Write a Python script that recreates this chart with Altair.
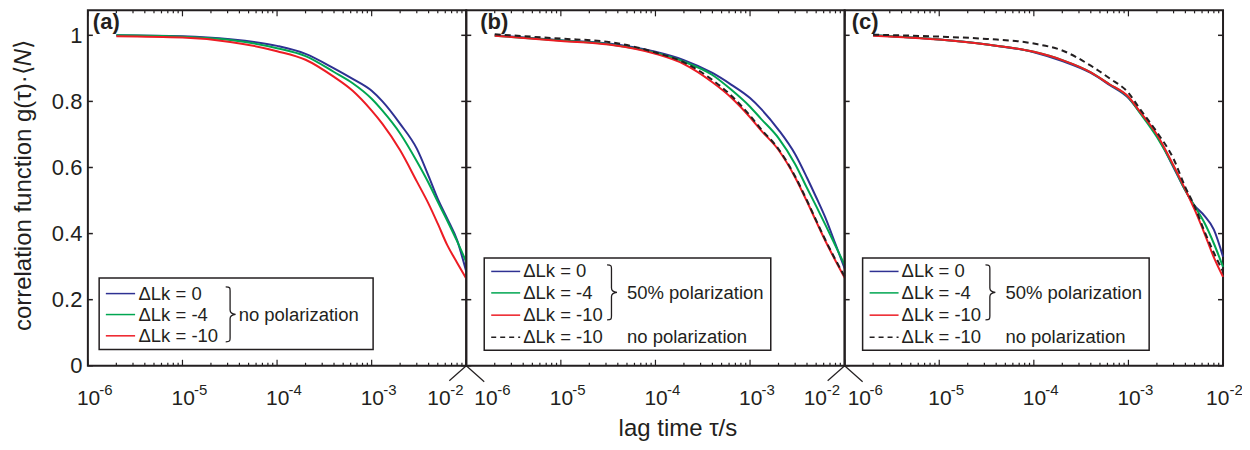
import altair as alt
import pandas as pd

# ---------------- data ----------------
tau = [2e-6, 1e-5, 3.2e-5, 1e-4, 2e-4, 4e-4, 6.3e-4, 1e-3, 1.3e-3, 2e-3,
       3e-3, 4e-3, 5e-3, 6.3e-3, 8e-3, 1e-2]

# panel (a): no polarization
a_lk0 = [1.000, 0.997, 0.988, 0.968, 0.944, 0.900, 0.868, 0.832, 0.800, 0.732,
         0.657, 0.574, 0.505, 0.445, 0.380, 0.285]
a_lk4 = [1.000, 0.996, 0.986, 0.961, 0.937, 0.889, 0.855, 0.808, 0.772, 0.703,
         0.619, 0.553, 0.496, 0.439, 0.377, 0.314]
a_lk10 = [0.997, 0.993, 0.980, 0.952, 0.926, 0.874, 0.832, 0.772, 0.732, 0.652,
          0.558, 0.490, 0.430, 0.365, 0.312, 0.264]

# panel (b): 50% polarization + reference
b_lk0 = [1.000, 0.985, 0.975, 0.950, 0.925, 0.886, 0.851, 0.810, 0.778, 0.714,
         0.640, 0.569, 0.510, 0.446, 0.368, 0.295]
b_lk4 = [0.999, 0.984, 0.973, 0.947, 0.920, 0.880, 0.836, 0.784, 0.748, 0.689,
         0.610, 0.538, 0.483, 0.425, 0.363, 0.305]
b_lk10 = [0.999, 0.983, 0.972, 0.944, 0.913, 0.858, 0.812, 0.752, 0.713, 0.653,
          0.570, 0.497, 0.437, 0.376, 0.318, 0.266]
b_ref = [1.003, 0.990, 0.980, 0.948, 0.918, 0.865, 0.818, 0.757, 0.717, 0.656,
         0.573, 0.500, 0.440, 0.379, 0.321, 0.270]

# panel (c): 50% polarization + reference
c_lk0 = [1.000, 0.987, 0.972, 0.949, 0.922, 0.886, 0.850, 0.810, 0.770, 0.697,
         0.600, 0.530, 0.485, 0.455, 0.412, 0.330]
c_lk4 = [1.000, 0.987, 0.972, 0.950, 0.925, 0.888, 0.852, 0.812, 0.768, 0.692,
         0.603, 0.530, 0.483, 0.435, 0.370, 0.299]
c_lk10 = [0.999, 0.987, 0.972, 0.950, 0.925, 0.888, 0.852, 0.814, 0.772, 0.700,
          0.606, 0.533, 0.473, 0.404, 0.328, 0.269]
c_ref = [1.002, 0.996, 0.989, 0.975, 0.954, 0.908, 0.870, 0.826, 0.780, 0.707,
         0.626, 0.540, 0.483, 0.410, 0.342, 0.285]

series_names = ["ΔLk = 0", "ΔLk = -4", "ΔLk = -10"]
ref_name = "ΔLk = -10"
group_no = "no polarization"
group_50 = "50% polarization"
panel_names = ["(a)", "(b)", "(c)"]
y_ticks = [0, 0.2, 0.4, 0.6, 0.8, 1.0]
x_major = [1e-6, 1e-5, 1e-4, 1e-3, 1e-2]
x_exp = ["-6", "-5", "-4", "-3", "-2"]
x_minor = [m * d for d in [1e-6, 1e-5, 1e-4, 1e-3] for m in range(2, 10)]
y_title_main = "correlation function g(τ)·⟨"
y_title_n = "N"
y_title_end = "⟩"
x_title = "lag time τ/s"

# ---------------- style ----------------
FONT = "Liberation Sans"
INK = "#231f20"
COLORS = ["#2e3192", "#00a651", "#ed1c24"]
W, H = 379, 356
TOP = H / 331.0
xs = alt.Scale(type="log", domain=[1e-6, 1e-2], nice=False)
ys = alt.Scale(domain=[0, TOP], nice=False, zero=False)
one = pd.DataFrame({"k": [0]})
BRACE = ("M -0.18 -1 C -0.02 -1 -0.02 -0.96 -0.02 -0.86 L -0.02 -0.16 "
         "C -0.02 -0.06 0.06 -0.01 0.18 0 C 0.06 0.01 -0.02 0.06 -0.02 0.16 "
         "L -0.02 0.86 C -0.02 0.96 -0.02 1 -0.18 1")
LEG = 18.5


def line_layer(vals, color, y_axis, dash=None):
    df = pd.DataFrame({"tau": tau, "g": vals})
    kw = dict(color=color, strokeWidth=2, interpolate="monotone")
    if dash:
        kw["strokeDash"] = dash
    return alt.Chart(df).mark_line(**kw).encode(
        x=alt.X("tau:Q", scale=xs, axis=None),
        y=alt.Y("g:Q", scale=ys, axis=y_axis))


def ytick_layer(x0, x1, y_axis):
    return alt.Chart(pd.DataFrame({"v": y_ticks})).mark_rule(
        color=INK, strokeWidth=1.5).encode(
        y=alt.Y("v:Q", scale=ys, axis=y_axis), x=alt.value(x0), x2=alt.value(x1))


def xtick_layer(vals, y0, y1):
    return alt.Chart(pd.DataFrame({"t": vals})).mark_rule(
        color=INK, strokeWidth=1.2).encode(
        x=alt.X("t:Q", scale=xs, axis=None), y=alt.value(y0), y2=alt.value(y1))


def xlabel_layers(idx, dx10, dxe):
    df = pd.DataFrame({"t": [x_major[i] for i in idx], "e": [x_exp[i] for i in idx]})
    base = alt.Chart(df).encode(x=alt.X("t:Q", scale=xs, axis=None))
    ten = base.mark_text(text="10", font=FONT, fontSize=21, align="left",
                         baseline="alphabetic", dx=dx10, color=INK).encode(y=alt.value(395))
    ex = base.mark_text(font=FONT, fontSize=15, align="left", baseline="alphabetic",
                        dx=dxe, color=INK).encode(y=alt.value(385), text="e:N")
    return [ten, ex]


def txt(s, x, y, size=LEG, align="left", baseline="middle", **kw):
    return alt.Chart(one).mark_text(text=s, font=FONT, fontSize=size, align=align,
                                    baseline=baseline, color=INK, **kw).encode(
        x=alt.value(x), y=alt.value(y))


def hrule(x0, x1, y, color, dash=None, width=1.5):
    kw = dict(color=color, strokeWidth=width)
    if dash:
        kw["strokeDash"] = dash
    return alt.Chart(one).mark_rule(**kw).encode(x=alt.value(x0), x2=alt.value(x1), y=alt.value(y))


def seg(x0, y0, x1, y1, color=INK):
    return alt.Chart(one).mark_rule(color=color, strokeWidth=1.2).encode(
        x=alt.value(x0), x2=alt.value(x1), y=alt.value(y0), y2=alt.value(y1))


def box(x0, x1, y0, y1):
    return alt.Chart(one).mark_rect(fill="white", stroke=INK, strokeWidth=1.5).encode(
        x=alt.value(x0), x2=alt.value(x1), y=alt.value(y0), y2=alt.value(y1))


def brace(x, y, h):
    return alt.Chart(one).mark_point(shape=BRACE, size=h * h, filled=False, color=INK,
                                     strokeWidth=1.3, opacity=1).encode(
        x=alt.value(x), y=alt.value(y))


def common_ticks(y_axis, right):
    layers = [ytick_layer(0, 5, y_axis)]
    if right:
        layers.append(ytick_layer(W - 5, W, y_axis))
    layers += [xtick_layer(x_major, H, H - 6), xtick_layer(x_minor, H, H - 3),
               xtick_layer(x_major, 0, 6), xtick_layer(x_minor, 0, 3)]
    return layers


# ---------------- panel (a) ----------------
yaxis_a = alt.Axis(orient="left", ticks=False, domain=False, grid=False, values=y_ticks,
                   format="~g", labelFont=FONT, labelFontSize=22, labelColor=INK,
                   labelPadding=6, title=None)
la = []
for vals, col in zip([a_lk0, a_lk4, a_lk10], COLORS):
    la.append(line_layer(vals, col, yaxis_a))
la += common_ticks(yaxis_a, True)
la += xlabel_layers([0, 1, 2, 3], -11, 11.5) + xlabel_layers([4], -39, -16)
rows_a = [283.7, 304.7, 326]
la.append(box(11.3, 285.7, 268, 339.7))
for name, col, ry in zip(series_names, COLORS, rows_a):
    la.append(hrule(18, 47.3, ry, col))
    la.append(txt(name, 50.7, ry))
la.append(brace(143, 304.5, 55))
la.append(txt(group_no, 151, 304.7))
la.append(txt(panel_names[0], 5, 19, size=22, baseline="alphabetic", fontWeight="bold"))
la.append(txt(y_title_main, -64, 56, size=24, align="right", angle=270))
la.append(txt(y_title_n, -64, 56, size=24, align="left", angle=270, fontStyle="italic"))
la.append(txt(y_title_end, -64, 38.7, size=24, align="left", angle=270))
la += [seg(W, H, W - 17, H + 15), seg(W, H, W + 18, H + 16)]
# invisible anchor fixing the left edge of the drawing
la.append(seg(-78, 100, -78, 120, color="white"))
panel_a = alt.layer(*la).properties(width=W, height=H)


# ---------------- panels (b) and (c) ----------------
def panel_bc(lk0, lk4, lk10, ref, label, label_x, first_dx, last_dx, right, extra):
    L = []
    for vals, col in zip([lk0, lk4, lk10], COLORS):
        L.append(line_layer(vals, col, None))
    L.append(line_layer(ref, INK, None, dash=[6, 4]))
    L += common_ticks(None, right)
    L += xlabel_layers([0], first_dx[0], first_dx[1])
    L += xlabel_layers([1, 2, 3], -11, 11.5)
    L += xlabel_layers([4], last_dx[0], last_dx[1])
    rows = [261.5, 283, 305.3, 327.5]
    L.append(box(18, 305, 248, 340.5))
    for name, col, ry in zip(series_names, COLORS, rows[:3]):
        L.append(hrule(25, 54, ry, col))
        L.append(txt(name, 57, ry))
    L.append(hrule(25, 54, rows[3], INK, dash=[5, 4]))
    L.append(txt(ref_name, 57, rows[3]))
    L.append(brace(146, 282.5, 55))
    L.append(txt(group_50, 161, rows[1]))
    L.append(txt(group_no, 161, rows[3]))
    L.append(txt(label, label_x, 19, size=22, baseline="alphabetic", fontWeight="bold"))
    L += extra
    return alt.layer(*L).properties(width=W, height=H)


panel_b = panel_bc(b_lk0, b_lk4, b_lk10, b_ref, panel_names[1], 14, (8, 31), (-41, -18), False,
                   [seg(W, H, W - 17, H + 15), seg(W, H, W + 18, H + 16),
                    txt(x_title, 212, 426, size=24, align="center", baseline="alphabetic")])
panel_c = panel_bc(c_lk0, c_lk4, c_lk10, c_ref, panel_names[2], 7, (3, 25), (-17, 6.5), True, [])

chart = alt.hconcat(panel_a, panel_b, panel_c, spacing=0, bounds="flush").properties(
    padding={"left": 0, "top": 0, "right": -2, "bottom": -1},
).configure_view(stroke=INK, strokeWidth=2)

chart.save("out.html", embed_options={"renderer": "svg", "actions": False})
